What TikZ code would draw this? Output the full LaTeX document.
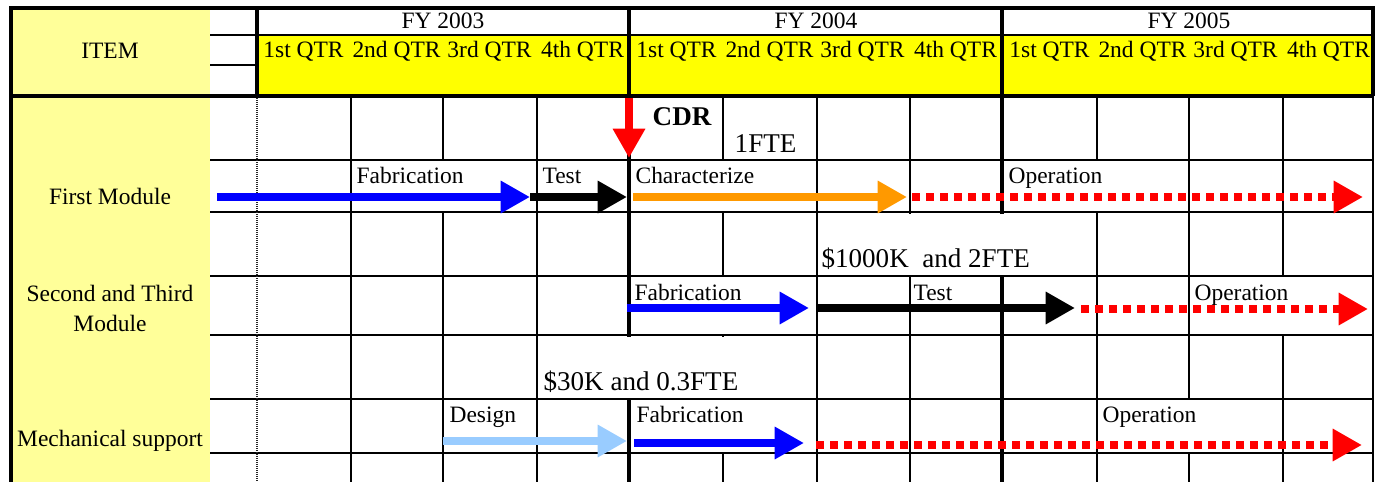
\documentclass[tikz,border=0pt]{standalone}
\usepackage{fontspec}
\setmainfont{Liberation Serif}
\usetikzlibrary{arrows.meta}

\definecolor{itemyellow}{HTML}{FFFF99}
\definecolor{qtryellow}{HTML}{FFFF00}
\definecolor{barorange}{HTML}{FF9900}
\definecolor{barlight}{HTML}{99CCFF}

\tikzset{
  smalltext/.style={font=\fontsize{17.6}{22.5}\selectfont},
  bigtext/.style={font=\fontsize{20.3}{24}\selectfont},
  gridline/.style={line width=0.8pt},
  thickline/.style={line width=2.6pt},
  task/.style={smalltext, fill=white, anchor=base west, inner xsep=1pt, inner ysep=0pt},
  cost/.style={bigtext, fill=white, anchor=base west, inner xsep=1pt, inner ysep=0pt,
               text height=40pt, text depth=6pt},
  timebar/.style={line width=5.5pt, -{Triangle[length=22pt,width=23pt]}},
  plan/.style={timebar, red, line width=5.8pt, dash pattern=on 5.8pt off 4.7pt},
}

\begin{document}
\begin{tikzpicture}[x=0.75pt,y=-0.75pt]
    \useasboundingbox (0,0) rectangle (1375,482);

    % backgrounds
    \fill[itemyellow] (11,8) rectangle (210,482);
    \fill[qtryellow] (257,35) rectangle (1373,96);

    % body grid
    \foreach \y in {160,212,276,335,399,453}
        \draw[gridline] (210,\y) -- (1373,\y);
    \foreach \x in {351,443,537,723,817,910,1097,1189,1283,1373}
        \draw[gridline] (\x,96) -- (\x,482);
    \draw[line width=1.6pt, black!85, dash pattern=on 1pt off 0.5pt] (257,96) -- (257,482);

    % header grid
    \draw[line width=1.2pt] (210,35) -- (1373,35);
    \draw[gridline] (210,65) -- (257,65);
    \draw[thickline] (11,482) -- (11,8) -- (1373,8) -- (1373,96);
    \draw[thickline] (11,96) -- (1373,96);
    \draw[thickline] (257,8) -- (257,96);
    \foreach \x in {629,1002}
        \draw[thickline] (\x,8) -- (\x,482);

    % header text
    \node[smalltext, anchor=base] (item) at (110,58) {ITEM};
    \foreach \fy [count=\i from 0] in {2003,2004,2005} {
        \node[smalltext, anchor=base] (fy\fy) at (443+373*\i,28) {FY \fy};
        \foreach \q [count=\k from 0] in {1st,2nd,3rd,4th}
            \node[smalltext, anchor=base] (q\i\k) at (257+373*\i+93*\k+46.5,57) {\q\ QTR};
    }

    % items
    \node[smalltext, anchor=base] (first) at (110,204) {First Module};
    \node[smalltext, align=center] (second) at (110,308) {Second and Third\\Module};
    \node[smalltext, anchor=base] (mech) at (110,446) {Mechanical support};

    % costs
    \node[bigtext, anchor=base west, font=\fontsize{20.3}{24}\selectfont\bfseries] (cdr) at (648,125) {CDR};
    \node[bigtext, anchor=base west] (fte) at (730,152) {1FTE};
    \node[cost] (cost2) at (820,267) {\$1000K~ and 2FTE};
    \node[cost] (cost3) at (542,390) {\$30K and 0.3FTE};

    % first module
    \node[task, text height=16.5pt, text depth=21pt] (fab1) at (355,183) {Fabrication};
    \node[task, text height=16.5pt, text depth=21pt] (test1) at (541,183) {Test};
    \node[task, text height=16.5pt, text depth=21pt] (char1) at (634,183) {Characterize};
    \node[task, text height=16.5pt, text depth=21pt] (op1) at (1007,183) {Operation};

    % second and third module
    \node[task, text height=17.25pt, text depth=25.5pt] (fab2) at (633,300) {Fabrication};
    \node[task, text height=17.25pt, text depth=25.5pt] (test2) at (912,300) {Test};
    \node[task, text height=17.25pt, text depth=25.5pt] (op2) at (1193,300) {Operation};

    % mechanical support
    \node[task, text height=16.5pt, text depth=22.5pt] (design3) at (448,422) {Design};
    \node[task, text height=16.5pt, text depth=22.5pt] (fab3) at (635,422) {Fabrication};
    \node[task, text height=16.5pt, text depth=22.5pt] (op3) at (1101,422) {Operation};

    % bars
    \draw[timebar, red, line width=6pt] (629,98) -- (629,158);

    \draw[timebar, blue] (217,197) -- (530,197);
    \draw[timebar, black] (530,197) -- (627,197);
    \draw[timebar, barorange] (633,197) -- (907,197);
    \draw[plan] (912,197) -- (1363,197);

    \draw[timebar, blue] (627,308) -- (809,308);
    \draw[timebar, black] (817,308) -- (1075,308);
    \draw[plan] (1081,309) -- (1368,309);

    \draw[timebar, barlight] (443,441) -- (627,441);
    \draw[timebar, blue] (634,443) -- (804,443);
    \draw[plan] (816,445) -- (1362,445);

\end{tikzpicture}
\end{document}
